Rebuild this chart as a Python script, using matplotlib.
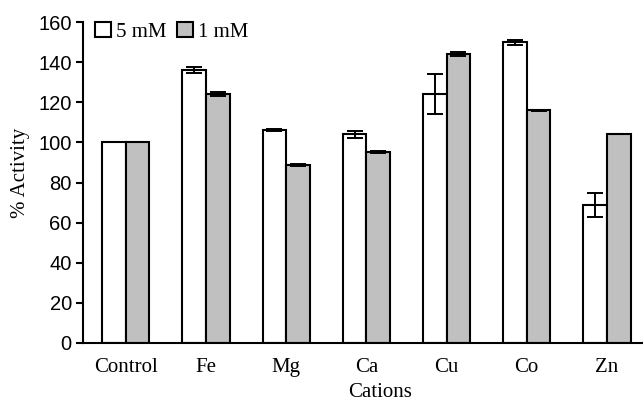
import matplotlib
matplotlib.use("Agg")
import matplotlib.pyplot as plt
import numpy as np

categories = ["Control", "Fe", "Mg", "Ca", "Cu", "Co", "Zn"]
vals_5mM = [100, 136, 106, 104, 124, 150, 69]
err_5mM = [0, 1.5, 0.5, 1.8, 10, 1.2, 6]
vals_1mM = [100, 124, 89, 95, 144, 116, 104]
err_1mM = [0, 1, 0.5, 0.5, 1, 0.4, 0]
yticks = [0, 20, 40, 60, 80, 100, 120, 140, 160]

serif = "Liberation Serif"
sans = "Liberation Sans"

fig = plt.figure(figsize=(6.43, 4.03), dpi=100)
ax = fig.add_axes([0.129, 0.149, 0.871, 0.796])

x = np.arange(len(categories))
w = 0.295
ax.bar(x - w / 2, vals_5mM, w, color="white", edgecolor="black", linewidth=1.5,
       yerr=err_5mM, error_kw=dict(ecolor="black", elinewidth=1.4, capsize=6, capthick=1.4),
       label="5 mM")
ax.bar(x + w / 2, vals_1mM, w, color="#c0c0c0", edgecolor="black", linewidth=1.5,
       yerr=err_1mM, error_kw=dict(ecolor="black", elinewidth=1.4, capsize=6, capthick=1.4),
       label="1 mM")

ax.set_xlim(-0.535, 6.45)
ax.set_ylim(0, 160)
ax.set_yticks(yticks)
ax.set_xticks(x)
ax.set_xticklabels(categories, fontfamily=serif, fontsize=15)
for lab in ax.get_yticklabels():
    lab.set_fontfamily(sans)
    lab.set_fontsize(14.5)
ax.tick_params(axis="x", length=0, pad=11)
ax.tick_params(axis="y", length=5, width=1.5, direction="out", pad=3)

for s in ["top", "right"]:
    ax.spines[s].set_visible(False)
ax.spines["left"].set_linewidth(1.5)
ax.spines["bottom"].set_linewidth(1.5)

ax.set_xlabel("Cations", fontfamily=serif, fontsize=15)
ax.xaxis.set_label_coords(0.53, -0.125)
ax.set_ylabel("% Activity", fontfamily=serif, fontsize=15)
ax.yaxis.set_label_coords(-0.095, 0.53)

leg = ax.legend(loc="upper left", bbox_to_anchor=(0.0, 1.04), ncol=2, frameon=False,
                prop=dict(family=serif, size=15), handlelength=0.75, handleheight=0.75,
                handletextpad=0.25, columnspacing=0.5, borderaxespad=0.2)

fig.savefig("out.png", dpi=100)
